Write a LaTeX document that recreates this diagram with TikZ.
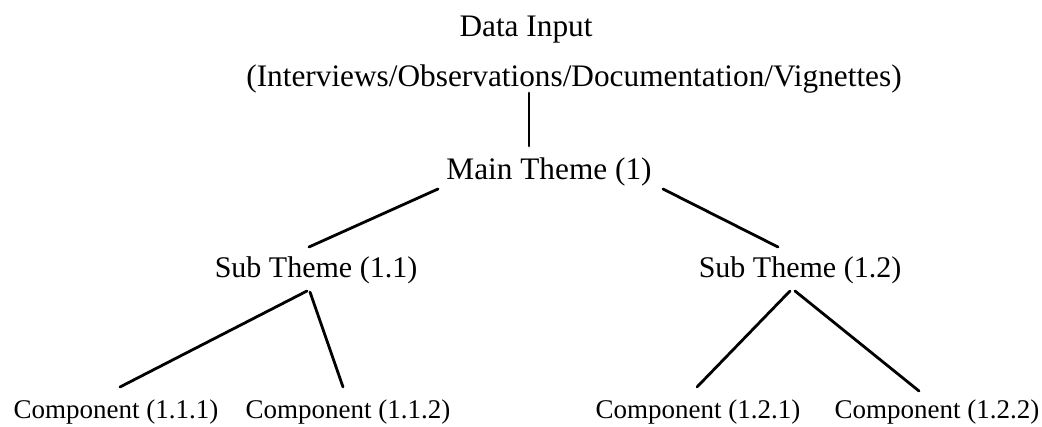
\documentclass[tikz,border=0pt]{standalone}
\usepackage{fontspec}
\setmainfont{Liberation Serif}
\begin{document}
\begin{tikzpicture}[x=1pt,y=-1pt,
  lbl/.style={inner sep=0pt,anchor=base},
  big/.style={lbl,font=\fontsize{31.3}{36}\selectfont},
  mid/.style={lbl,font=\fontsize{30}{34}\selectfont},
  small/.style={lbl,font=\fontsize{27}{31}\selectfont},
  link/.style={line width=2.8pt,line cap=round}]
\useasboundingbox (0,0) rectangle (1042,427);

% labels, placed by their base lines
\node[big]   (data) at (526,37)  {Data Input};
\node[big]   (src)  at (574,87)  {(Interviews/Observations/Documentation/Vignettes)};
\node[big]   (main) at (549,180) {Main Theme (1)};
\node[mid]   (sub1) at (316,278) {Sub Theme (1.1)};
\node[mid]   (sub2) at (800,278) {Sub Theme (1.2)};
\node[small] (c111) at (116,419) {Component (1.1.1)};
\node[small] (c112) at (348,419) {Component (1.1.2)};
\node[small] (c121) at (698,419) {Component (1.2.1)};
\node[small] (c122) at (937,419) {Component (1.2.2)};

% tree links
\draw[link] ([shift={(-45,6)}]src.base)   -- ([shift={(-20,-34)}]main.base);
\draw[link] ([shift={(-111,9)}]main.base) -- ([shift={(-7,-31)}]sub1.base);
\draw[link] ([shift={(114,9)}]main.base)  -- ([shift={(-22,-31)}]sub2.base);
\draw[link] ([shift={(-9,13)}]sub1.base)  -- ([shift={(4,-32)}]c111.base);
\draw[link] ([shift={(-6,14)}]sub1.base)  -- ([shift={(-5,-32)}]c112.base);
\draw[link] ([shift={(-10,13)}]sub2.base) -- ([shift={(-1,-32)}]c121.base);
\draw[link] ([shift={(-5,13)}]sub2.base)  -- ([shift={(-18,-28)}]c122.base);
\end{tikzpicture}
\end{document}
